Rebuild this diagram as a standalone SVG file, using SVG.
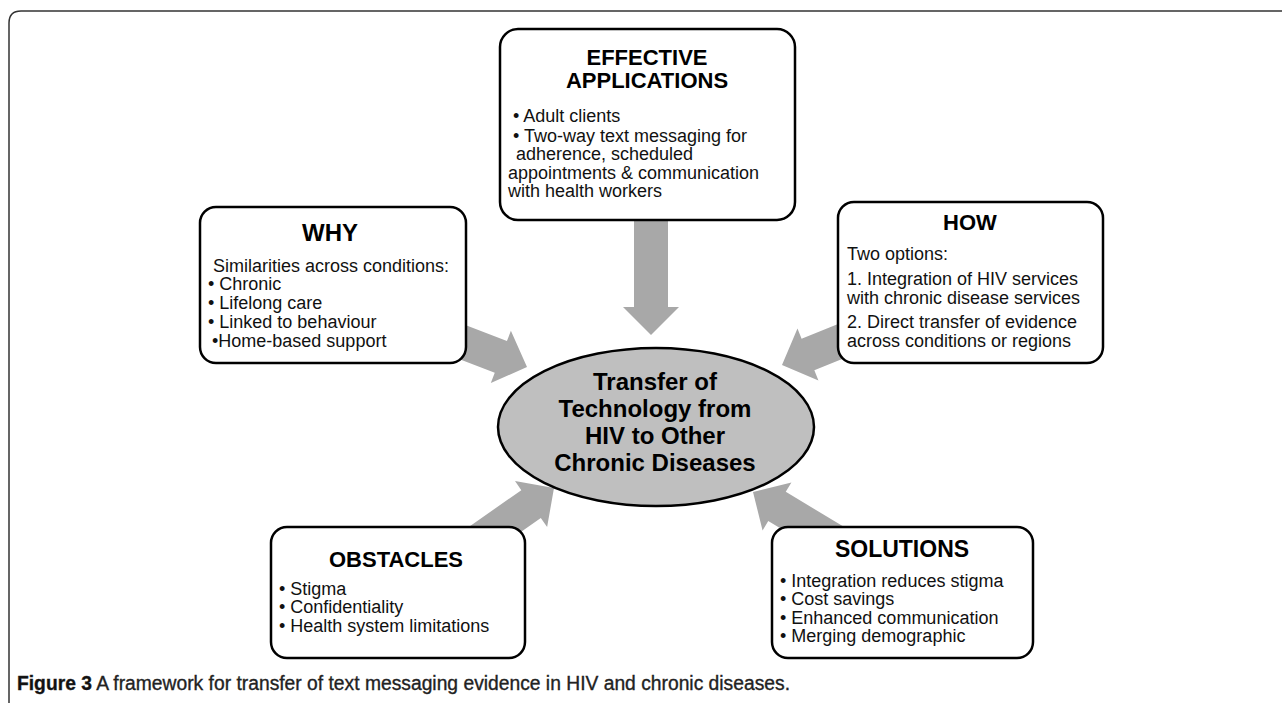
<svg xmlns="http://www.w3.org/2000/svg" width="1282" height="703" viewBox="0 0 1282 703">
<style>
.box{fill:#fff;stroke:#000;stroke-width:2.5}
.ttl{font-family:"Liberation Sans",Arial,sans-serif;font-weight:bold;font-size:22px;fill:#000;text-anchor:middle}
.txt{font-family:"Liberation Sans",Arial,sans-serif;font-size:18px;fill:#111}
.ctr{font-family:"Liberation Sans",Arial,sans-serif;font-weight:bold;font-size:24px;fill:#000;text-anchor:middle}
.arr{fill:#a8a8a8}
.cap{font-family:"Liberation Sans",Arial,sans-serif;font-size:20px;fill:#222;stroke:#222;stroke-width:0.35}
</style>
<defs>
<polygon id="arrow" points="0,0 -28,-28 -28,-17 -120,-17 -120,17 -28,17 -28,28"/>
</defs>
<rect width="1282" height="703" fill="#fff"/>
<path d="M9,720 L9,23 Q9,11 21,11 L1300,11" fill="none" stroke="#333" stroke-width="1.5"/>
<g id="connectors">
<use href="#arrow" class="arr" transform="translate(651,335) rotate(90)"/>
<use href="#arrow" class="arr" transform="translate(527,367) rotate(21)"/>
<use href="#arrow" class="arr" transform="translate(782,365) rotate(158)"/>
<use href="#arrow" class="arr" transform="translate(554,488) rotate(-35)"/>
<use href="#arrow" class="arr" transform="translate(753,492) rotate(-149)"/>
</g>
<g id="center">
<ellipse cx="656" cy="427" rx="158" ry="79" fill="#bfbfbf" stroke="#000" stroke-width="2.5"/>
<text class="ctr" x="655" y="390">Transfer of</text>
<text class="ctr" x="655" y="417">Technology from</text>
<text class="ctr" x="655" y="444">HIV to Other</text>
<text class="ctr" x="655" y="471">Chronic Diseases</text>
</g>
<g id="effective">
<rect class="box" x="500" y="29" width="295" height="191" rx="18"/>
<text class="ttl" x="647" y="65">EFFECTIVE</text>
<text class="ttl" x="647" y="88">APPLICATIONS</text>
<text class="txt" x="513" y="122">• Adult clients</text>
<text class="txt" x="513" y="142">• Two-way text messaging for</text>
<text class="txt" x="516" y="160">adherence, scheduled</text>
<text class="txt" x="508" y="179">appointments &amp; communication</text>
<text class="txt" x="508" y="197">with health workers</text>
</g>
<g id="why">
<rect class="box" x="200" y="207" width="266" height="156" rx="16"/>
<text class="ttl" x="330" y="241" style="font-size:24px">WHY</text>
<text class="txt" x="213" y="272">Similarities across conditions:</text>
<text class="txt" x="208" y="290">• Chronic</text>
<text class="txt" x="208" y="309">• Lifelong care</text>
<text class="txt" x="208" y="328">• Linked to behaviour</text>
<text class="txt" x="212" y="347">•Home-based support</text>
</g>
<g id="how">
<rect class="box" x="838" y="202" width="265" height="161" rx="16"/>
<text class="ttl" x="970" y="230">HOW</text>
<text class="txt" x="847" y="260">Two options:</text>
<text class="txt" x="847" y="285">1. Integration of HIV services</text>
<text class="txt" x="847" y="304">with chronic disease services</text>
<text class="txt" x="847" y="328">2. Direct transfer of evidence</text>
<text class="txt" x="847" y="347">across conditions or regions</text>
</g>
<g id="obstacles">
<rect class="box" x="271" y="527" width="254" height="131" rx="16"/>
<text class="ttl" x="396" y="567">OBSTACLES</text>
<text class="txt" x="279" y="595">• Stigma</text>
<text class="txt" x="279" y="613">• Confidentiality</text>
<text class="txt" x="279" y="632">• Health system limitations</text>
</g>
<g id="solutions">
<rect class="box" x="772" y="527" width="261" height="131" rx="16"/>
<text class="ttl" x="902" y="557" style="font-size:23px">SOLUTIONS</text>
<text class="txt" x="780" y="587">• Integration reduces stigma</text>
<text class="txt" x="780" y="605">• Cost savings</text>
<text class="txt" x="780" y="624">• Enhanced communication</text>
<text class="txt" x="780" y="642">• Merging demographic</text>
</g>
<text class="cap" x="17" y="690" textLength="773" lengthAdjust="spacingAndGlyphs"><tspan font-weight="bold" fill="#111">Figure 3</tspan> A framework for transfer of text messaging evidence in HIV and chronic diseases.</text>
</svg>
